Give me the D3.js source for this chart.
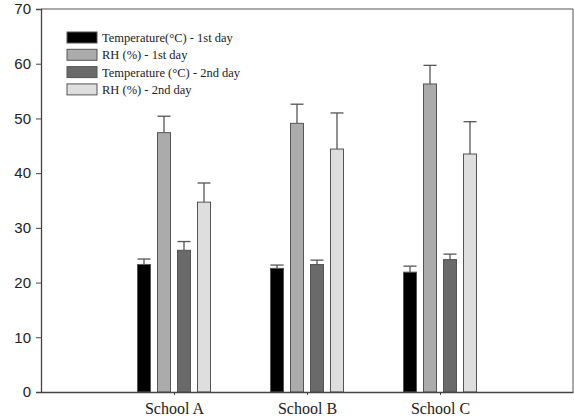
<!DOCTYPE html>
<html>
<head>
<meta charset="utf-8">
<script src="https://cdn.jsdelivr.net/npm/d3@7"></script>
<style>
  body { margin: 0; background: #fff; }
</style>
</head>
<body>
<div id="chart"></div>
<script>
// Data
const schools = ["School A", "School B", "School C"];
const seriesNames = ["Temperature(\u00B0C) - 1st day", "RH (%) - 1st day", "Temperature (\u00B0C) - 2nd day", "RH (%) - 2nd day"];
const seriesColors = ["#000000", "#ababab", "#6a6a6a", "#dedede"];
const means = [
  [23.3, 47.4, 25.9, 34.7],
  [22.6, 49.1, 23.3, 44.4],
  [21.9, 56.3, 24.2, 43.5]
];
const upperErr = [
  [24.3, 50.4, 27.5, 38.2],
  [23.2, 52.6, 24.1, 51.0],
  [23.0, 59.7, 25.2, 49.4]
];
const yTicks = [0, 10, 20, 30, 40, 50, 60, 70];

const W = 574, H = 418;
const margin = { top: 9, right: 1, bottom: 26, left: 41 };
const width = W - margin.left - margin.right;
const height = H - margin.top - margin.bottom;

const svg = d3.select("#chart").append("svg")
    .attr("width", W)
    .attr("height", H)
  .append("g")
    .attr("transform", "translate(" + margin.left + "," + margin.top + ")");

// Scales
let x = d3.scalePoint()
  .domain(schools)
  .range([0, width])
  .padding(1);

let y = d3.scaleLinear()
  .domain([0, 70])
  .range([height, 0]);

const barW = 13, pitch = 20;
let inner = d3.scaleBand()
  .domain(d3.range(seriesNames.length))
  .range([-2 * pitch, 2 * pitch])
  .paddingInner((pitch - barW) / pitch)
  .paddingOuter((pitch - barW) / pitch / 2);

// Frame (top and right)
svg.append("path")
  .attr("d", "M0,0H" + width + "V" + height)
  .attr("fill", "none")
  .attr("stroke", "#555")
  .attr("stroke-width", 1);

// Bars
const groups = svg.selectAll(".grp")
  .data(schools)
  .enter().append("g")
  .attr("class", "grp")
  .attr("transform", (d) => "translate(" + x(d) + ",0)");

groups.each(function(school, si) {
  const g = d3.select(this);
  means[si].forEach((v, k) => {
    const bx = inner(k);
    const cx = bx + inner.bandwidth() / 2;
    // error bar
    g.append("line")
      .attr("x1", cx).attr("x2", cx)
      .attr("y1", y(v)).attr("y2", y(upperErr[si][k]))
      .attr("stroke", "#555").attr("stroke-width", 1.3);
    g.append("line")
      .attr("x1", bx).attr("x2", bx + inner.bandwidth())
      .attr("y1", y(upperErr[si][k])).attr("y2", y(upperErr[si][k]))
      .attr("stroke", "#555").attr("stroke-width", 1.3);
    g.append("rect")
      .attr("x", bx)
      .attr("y", y(v))
      .attr("width", inner.bandwidth())
      .attr("height", height - y(v))
      .attr("fill", seriesColors[k])
      .attr("stroke", "#555")
      .attr("stroke-width", 1);
  });
});

// Y axis
const yAxis = svg.append("g")
  .call(d3.axisLeft(y).tickValues(yTicks).tickSize(5).tickPadding(5));
yAxis.select(".domain").attr("stroke", "#444").attr("stroke-width", 1.3);
yAxis.selectAll(".tick line").attr("stroke", "#444");
yAxis.selectAll("text")
  .attr("fill", "#222")
  .style("font-family", "Liberation Sans, Arial, sans-serif")
  .style("font-size", "15px");

// X axis
const xAxis = svg.append("g")
  .attr("transform", "translate(0," + height + ")")
  .call(d3.axisBottom(x).tickSize(3).tickPadding(8).tickSizeOuter(0));
xAxis.select(".domain").attr("stroke", "#444").attr("stroke-width", 1.3);
xAxis.selectAll(".tick line").attr("stroke", "#444");
xAxis.selectAll("text")
  .attr("fill", "#222")
  .style("font-family", "Liberation Serif, Times New Roman, serif")
  .style("font-size", "16px");

// Legend
const legend = svg.append("g")
  .attr("class", "legend")
  .attr("transform", "translate(26,23)");

seriesNames.forEach((name, k) => {
  legend.append("rect")
    .attr("x", 0)
    .attr("y", k * 17.3)
    .attr("width", 30)
    .attr("height", 11)
    .attr("fill", seriesColors[k])
    .attr("stroke", "#555")
    .attr("stroke-width", 1);
  legend.append("text")
    .attr("x", 35)
    .attr("y", k * 17.3 + 10)
    .attr("fill", "#222")
    .style("font-family", "Liberation Serif, Times New Roman, serif")
    .style("font-size", "12.5px")
    .text(name);
});
</script>
</body>
</html>
